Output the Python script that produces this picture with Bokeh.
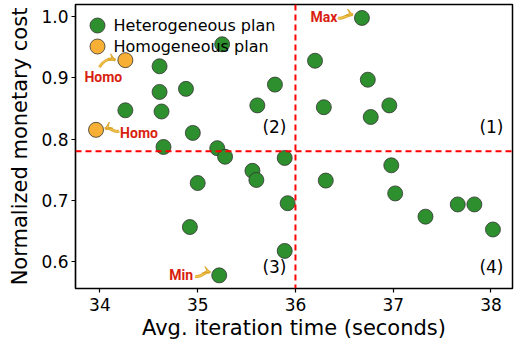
from bokeh.plotting import figure
from bokeh.models import Range1d, FixedTicker, Span, Label, Arrow, VeeHead
from bokeh.embed import file_html
from bokeh.resources import INLINE

# ---- data ----
het_x = [35.25, 34.61, 34.61, 34.88, 34.26, 34.63, 35.79, 35.61, 34.95, 34.65,
         35.20, 35.28, 35.89, 35.56, 35.60, 35.00, 35.92, 34.92, 35.89, 35.22,
         36.68, 36.20, 36.74, 36.29, 36.96, 36.77, 36.31, 36.98, 37.02, 37.33,
         37.66, 37.83, 38.02]
het_y = [0.955, 0.919, 0.877, 0.882, 0.847, 0.845, 0.889, 0.855, 0.810, 0.787,
         0.785, 0.771, 0.769, 0.748, 0.733, 0.728, 0.695, 0.656, 0.617, 0.577,
         0.998, 0.928, 0.897, 0.852, 0.855, 0.836, 0.732, 0.757, 0.711, 0.673,
         0.693, 0.693, 0.652]
homo_x = [34.26, 33.96]
homo_y = [0.929, 0.815]
x_ticks = [34, 35, 36, 37, 38]
y_ticks = [0.6, 0.7, 0.8, 0.9, 1.0]
y_tick_labels = ["0.6", "0.7", "0.8", "0.9", "1.0"]
legend_labels = ["Heterogeneous plan", "Homogeneous plan"]
x_split = 36.0
y_split = 0.78

FONT = "DejaVu Sans"
GREEN = "#2e8f2e"
ORANGE = "#f7b035"
XR = (33.75, 38.22)
YR = (0.5555, 1.02)
W, H = 515, 342
BL, BR, BT, BB = 75, 3, 4, 54
FW, FH = W - BL - BR, H - BT - BB

p = figure(width=W, height=H, output_backend="svg", toolbar_location=None,
           x_range=Range1d(*XR), y_range=Range1d(*YR),
           min_border_left=BL, min_border_right=BR, min_border_top=BT, min_border_bottom=BB)
p.xgrid.visible = False
p.ygrid.visible = False
p.outline_line_color = "black"
p.outline_line_width = 1.5
p.background_fill_color = "white"

for ax in (p.xaxis[0], p.yaxis[0]):
    ax.axis_line_width = 1.2
    ax.major_tick_line_width = 1.2
    ax.major_tick_in = 0
    ax.major_tick_out = 4
    ax.minor_tick_line_color = None
    ax.major_label_standoff = 3
    ax.major_label_text_font = FONT
    ax.major_label_text_font_size = "17px"
    ax.major_label_text_color = "black"
    ax.axis_label_text_font = FONT
    ax.axis_label_text_font_size = "21px"
    ax.axis_label_text_font_style = "normal"
    ax.axis_label_text_color = "black"
p.xaxis.ticker = FixedTicker(ticks=x_ticks)
p.yaxis.ticker = FixedTicker(ticks=y_ticks)
p.yaxis.major_label_overrides = {t: l for t, l in zip(y_ticks, y_tick_labels)}
p.xaxis.axis_label = "Avg. iteration time (seconds)"
p.yaxis.axis_label = "Normalized monetary cost"
p.xaxis.major_label_standoff = 5
p.xaxis.axis_label_standoff = 2
p.yaxis.axis_label_standoff = 6

p.add_layout(Span(location=x_split, dimension="height", line_color="red", line_width=2, line_dash="6 4"))
p.add_layout(Span(location=y_split, dimension="width", line_color="red", line_width=2, line_dash="6 4"))

p.scatter(het_x, het_y, size=15, fill_color=GREEN, line_color="#333333", line_width=0.8)
p.scatter(homo_x, homo_y, size=15, fill_color=ORANGE, line_color="#333333", line_width=0.8)

dx = (XR[1] - XR[0]) / FW
dy = (YR[1] - YR[0]) / FH

def off(x, y, px, py):
    return x + px * dx, y - py * dy

# manual legend (top-left)
for i, (lab, col) in enumerate(zip(legend_labels, [GREEN, ORANGE])):
    mx, my = off(XR[0], YR[1], 22, 21 + 21 * i)
    p.scatter([mx], [my], size=15, fill_color=col, line_color="#333333", line_width=0.8)
    p.add_layout(Label(x=mx, y=my, x_offset=16, text=lab, text_font=FONT, text_font_size="16px",
                       text_color="black", text_baseline="middle", text_align="left"))

# quadrant labels
for txt, xx, yy in [("(1)", XR[1], y_split), ("(2)", x_split, y_split),
                    ("(3)", x_split, YR[0]), ("(4)", XR[1], YR[0])]:
    py = 24 if yy == y_split else 22
    p.add_layout(Label(x=xx, y=yy, x_offset=-9, y_offset=py, text=txt, text_font=FONT,
                       text_color="black", text_font_size="17px", text_align="right",
                       text_baseline="middle"))

ARROW_C = "#f2c14e"
def note(text, tx, ty, tpx, tpy, s, e, c0, c1):
    lx, ly = off(tx, ty, tpx, tpy)
    p.add_layout(Label(x=lx, y=ly, text=text, text_font="Roboto", text_font_style="bold",
                       text_font_size="14px", text_color="#d81e10", text_align="center",
                       text_baseline="middle"))
    x0, y0 = off(tx, ty, *s)
    x1, y1 = off(tx, ty, *e)
    cx0, cy0 = off(tx, ty, *c0)
    cx1, cy1 = off(tx, ty, *c1)
    p.bezier(x0=[x0], y0=[y0], x1=[x1], y1=[y1], cx0=[cx0], cy0=[cy0], cx1=[cx1], cy1=[cy1],
             line_color="#d9a52a", line_width=3)
    p.bezier(x0=[x0], y0=[y0], x1=[x1], y1=[y1], cx0=[cx0], cy0=[cy0], cx1=[cx1], cy1=[cy1],
             line_color=ARROW_C, line_width=1.6)
    p.add_layout(Arrow(x_start=cx1, y_start=cy1, x_end=x1, y_end=y1, line_color=None,
                       end=VeeHead(size=7, fill_color=ARROW_C, line_color="#d9a52a", line_width=1)))

# Homo (upper)
note("Homo", homo_x[0], homo_y[0], -22, 17, (-26, 7), (-10, 0), (-22, 1), (-16, -3))
# Homo (lower)
note("Homo", homo_x[1], homo_y[1], 43, 3, (23, 1), (9, -1), (18, 4), (14, -4))
# Max
mi = het_y.index(max(het_y))
note("Max", het_x[mi], het_y[mi], -38, -1, (-24, 0), (-9, -3), (-18, 2), (-14, -5))
# Min
ni = het_y.index(min(het_y))
note("Min", het_x[ni], het_y[ni], -38, 0, (-24, 1), (-9, -3), (-18, 3), (-14, -5))

open("out.html", "w").write(file_html(p, INLINE))
